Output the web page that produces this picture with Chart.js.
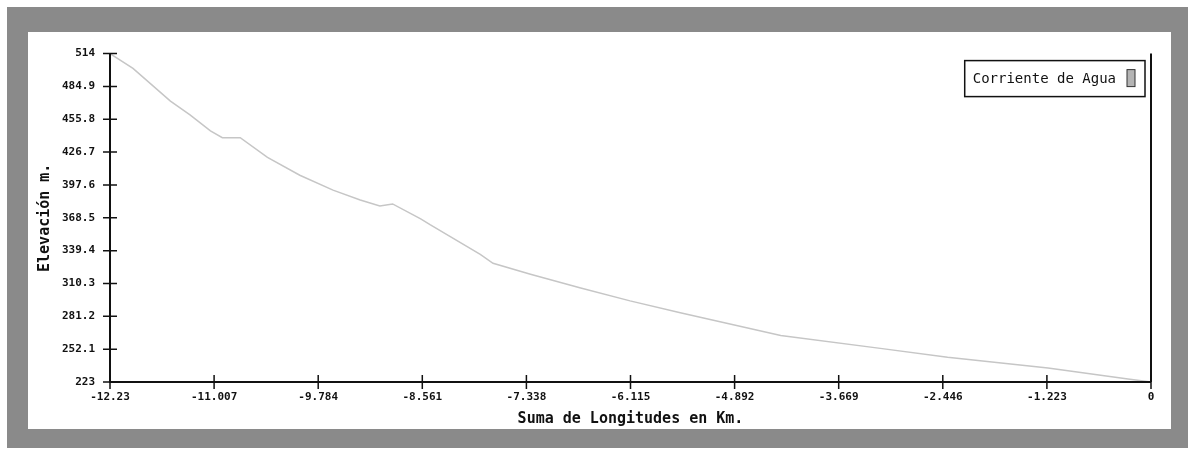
<!DOCTYPE html>
<html>
<head>
<meta charset="utf-8">
<script src="https://cdn.jsdelivr.net/npm/chart.js@4.4.1/dist/chart.umd.min.js"></script>
<style>
    body { margin: 0; background: #fff; }
    #frame {
        position: absolute;
        left: 7px; top: 7px;
        width: 1143px; height: 397px;
        border-style: solid;
        border-color: #8a8a8a;
        border-width: 25px 17px 19px 21px;
        background: #fff;
    }
    #box { position: relative; width: 1143px; height: 397px; }
</style>
</head>
<body>
<div id="frame"><div id="box"><canvas id="myChart"></canvas></div></div>
<script>
// distance along the stream (km) and elevation (m)
const distKm = [-12.23, -11.96, -11.52, -11.29, -11.05, -10.91, -10.70, -10.38, -10.00, -9.61,
                -9.29, -9.06, -8.91, -8.58, -8.47, -7.88, -7.73, -7.29, -6.70, -6.12,
                -5.53, -4.35, -3.18, -2.39, -1.21, -0.27, 0];
const elevM = [514, 500.9, 471.9, 459.7, 445.6, 439.5, 439.5, 422.0, 406.2, 393.0,
               384.3, 379.0, 380.8, 367.6, 362.4, 336.1, 328.2, 318.5, 306.3, 294.9,
               284.4, 264.2, 252.8, 244.9, 235.3, 225.6, 223];

const xTicks = [-12.23, -11.007, -9.784, -8.561, -7.338, -6.115, -4.892, -3.669, -2.446, -1.223, 0];
const yTicks = [223, 252.1, 281.2, 310.3, 339.4, 368.5, 397.6, 426.7, 455.8, 484.9, 514];

const seriesName = 'Corriente de Agua';
const ink = '#111';
const lineGray = '#c6c6c6';
const swatchGray = '#b4b4b4';

// cross ticks on both axes, right edge line, and the boxed legend
const axisDecor = {
    id: 'axisDecor',
    afterDraw(chart) {
        const ctx = chart.ctx;
        const a = chart.chartArea;
        const xs = chart.scales.x, ys = chart.scales.y;
        ctx.save();
        ctx.strokeStyle = ink;
        ctx.lineWidth = 2;
        ctx.beginPath();
        ctx.moveTo(a.left, a.top); ctx.lineTo(a.left, a.bottom);
        ctx.lineTo(a.right, a.bottom);
        ctx.moveTo(a.right, a.top); ctx.lineTo(a.right, a.bottom);
        ctx.stroke();
        ctx.lineWidth = 1.5;
        ctx.beginPath();
        yTicks.forEach(v => {
            const p = ys.getPixelForValue(v);
            ctx.moveTo(a.left - 7, p); ctx.lineTo(a.left + 7, p);
        });
        xTicks.forEach(v => {
            const p = xs.getPixelForValue(v);
            ctx.moveTo(p, a.bottom - 7); ctx.lineTo(p, a.bottom + 7);
        });
        ctx.stroke();

        // legend: text then swatch, inside a frame at the top right
        const label = chart.data.datasets[0].label;
        ctx.font = '14px "DejaVu Sans Mono"';
        const tw = ctx.measureText(label).width;
        const w = 8 + tw + 11 + 8 + 10;
        const h = 36;
        const right = a.right - 6;
        const top = a.top + 7;
        const left = right - w;
        ctx.fillStyle = '#fff';
        ctx.fillRect(left, top, w, h);
        ctx.lineWidth = 1.5;
        ctx.strokeRect(left, top, w, h);
        ctx.fillStyle = ink;
        ctx.textBaseline = 'middle';
        ctx.textAlign = 'left';
        ctx.fillText(label, left + 8, top + h / 2 + 1);
        ctx.fillStyle = swatchGray;
        ctx.fillRect(left + 8 + tw + 11, top + 9, 8, 17);
        ctx.lineWidth = 1;
        ctx.strokeStyle = '#333';
        ctx.strokeRect(left + 8 + tw + 11, top + 9, 8, 17);
        ctx.restore();
    }
};

const tickFont = { family: 'DejaVu Sans Mono', size: 11, weight: 'bold' };
const titleFont = { family: 'DejaVu Sans Mono', size: 15, weight: 'bold' };

const ctx = document.getElementById('myChart');
const myChart = new Chart(ctx, {
    type: 'line',
    data: {
        datasets: [{
            label: seriesName,
            data: distKm.map((x, i) => ({ x: x, y: elevM[i] })),
            borderColor: lineGray,
            backgroundColor: swatchGray,
            borderWidth: 1.5,
            pointRadius: 0,
            tension: 0
        }]
    },
    options: {
        responsive: true,
        maintainAspectRatio: false,
        animation: false,
        layout: { padding: { top: 18, right: 20, left: 0, bottom: 0 } },
        scales: {
            x: {
                type: 'linear',
                min: -12.23,
                max: 0,
                afterBuildTicks: s => { s.ticks = xTicks.map(v => ({ value: v })); },
                afterFit: s => { s.height = 47; },
                grid: { display: false, drawTicks: false },
                border: { display: false },
                ticks: {
                    color: ink,
                    font: tickFont,
                    padding: 9,
                    maxRotation: 0,
                    autoSkip: false,
                    callback: v => String(v)
                },
                title: {
                    display: true,
                    text: 'Suma de Longitudes en Km.',
                    color: ink,
                    font: titleFont,
                    padding: { top: 0, bottom: 1 }
                }
            },
            y: {
                min: 223,
                max: 514,
                afterBuildTicks: s => { s.ticks = yTicks.map(v => ({ value: v })); },
                afterFit: s => { s.width = 82; },
                grid: { display: false, drawTicks: false },
                border: { display: false },
                ticks: {
                    color: ink,
                    font: tickFont,
                    padding: 15,
                    autoSkip: false,
                    callback: v => String(v)
                },
                title: {
                    display: true,
                    text: 'Elevación m.',
                    color: ink,
                    font: titleFont,
                    padding: { top: 8, bottom: 0 }
                }
            }
        },
        plugins: {
            legend: { display: false },
            tooltip: { enabled: false }
        }
    },
    plugins: [axisDecor]
});
</script>
</body>
</html>
